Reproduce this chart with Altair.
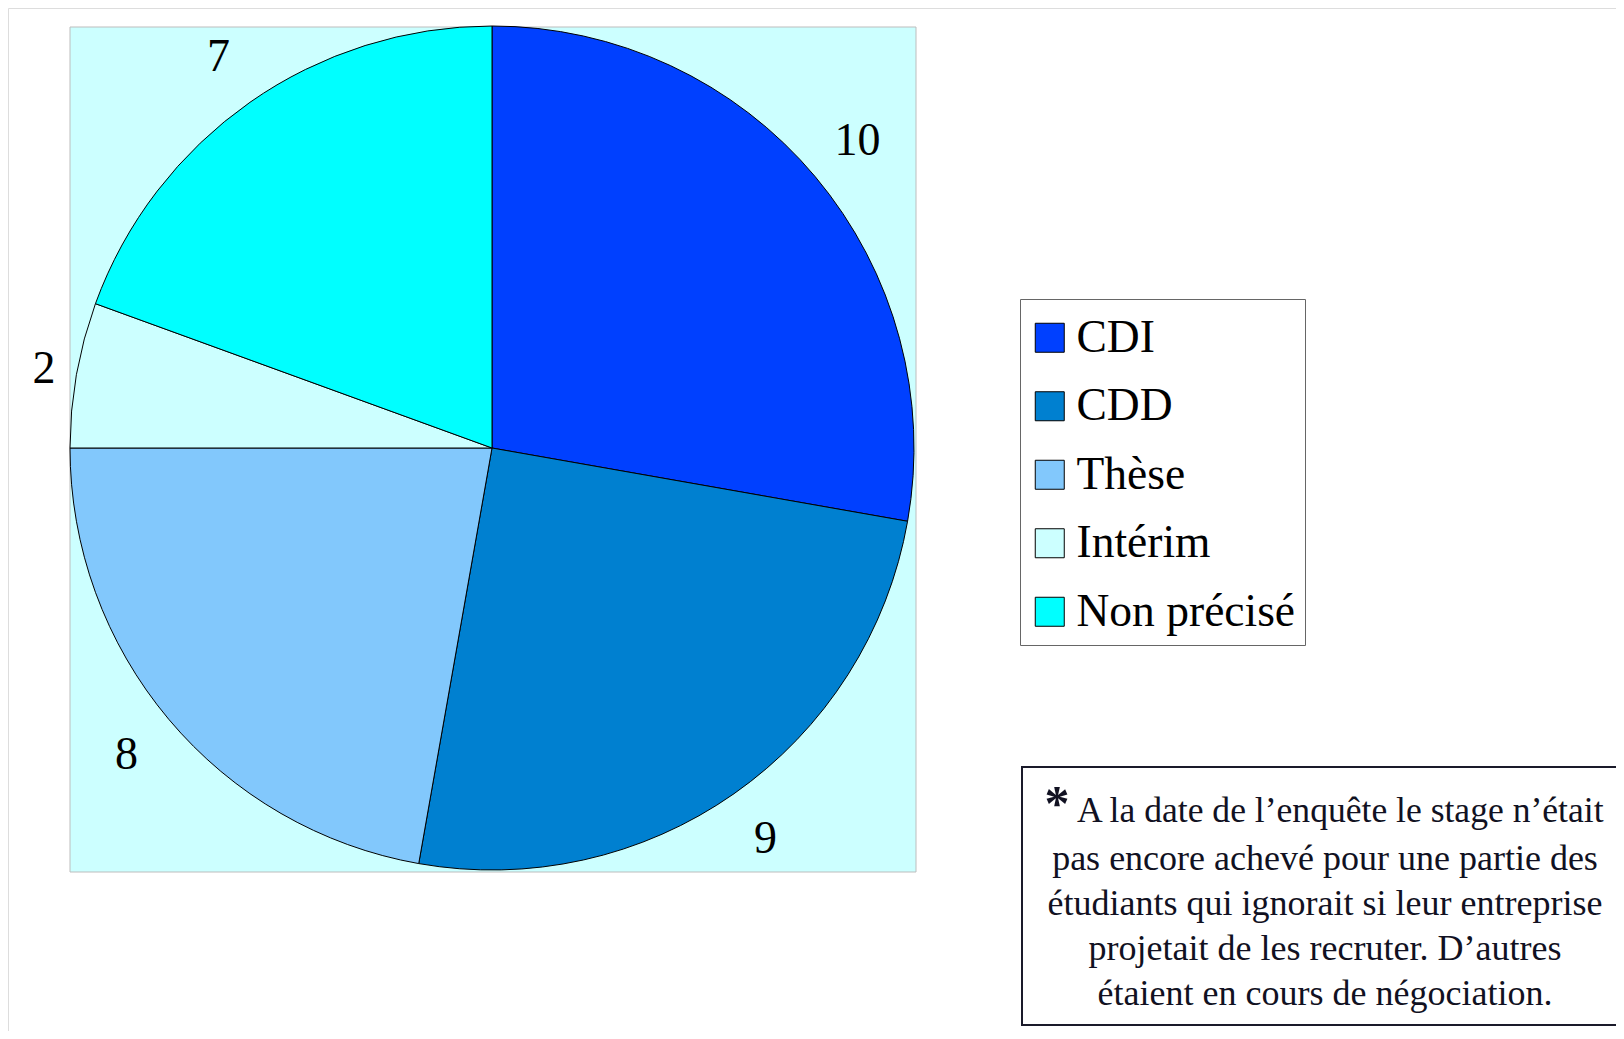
import altair as alt
import pandas as pd

# ---- data ----
categories = ["CDI", "CDD", "Thèse", "Intérim", "Non précisé"]
values = [10, 9, 8, 2, 7]
colors = ["#0040FF", "#0080D0", "#82C8FC", "#CCFFFF", "#00FFFF"]

note_star = "*"
note_first = "A la date de l’enquête le stage n’était"
note_rest = [
    "pas encore achevé pour une partie des",
    "étudiants qui ignorait si leur entreprise",
    "projetait de les recruter. D’autres",
    "étaient en cours de négociation.",
]

df = pd.DataFrame({"cat": categories, "value": values, "idx": list(range(len(categories)))})
one = pd.DataFrame({"a": [0]})

SERIF = "Liberation Serif"
CX, CY, R = 484, 440, 422

bg = alt.Chart(one).mark_rect(fill="#CCFFFF", stroke="#BDBDBD", strokeWidth=1).encode(
    x=alt.value(62), x2=alt.value(908), y=alt.value(19), y2=alt.value(864)
)

pie = alt.Chart(df).mark_arc(outerRadius=R, stroke="black", strokeWidth=1).encode(
    theta=alt.Theta("value:Q", stack=True),
    order=alt.Order("idx:Q", sort="ascending"),
    x=alt.value(CX),
    y=alt.value(CY),
    color=alt.Color(
        "cat:N",
        scale=alt.Scale(domain=categories, range=colors),
        legend=alt.Legend(
            title=".",
            titleOpacity=0,
            titleFontSize=2,
            titlePadding=5,
            orient="none",
            legendX=1012,
            legendY=291,
            padding=9,
            strokeColor="#666666",
            fillColor="white",
            labelFont=SERIF,
            labelFontSize=45.5,
            labelColor="black",
            labelLimit=400,
            labelOffset=4,
            symbolOffset=-2,
            symbolType="square",
            symbolSize=841,
            symbolStrokeColor="black",
            symbolStrokeWidth=1,
            symbolOpacity=1,
            rowPadding=21.5,
        ),
    ),
)

labels = (
    alt.Chart(df)
    .transform_window(cum="sum(value)", sort=[alt.SortField("idx", order="ascending")])
    .transform_joinaggregate(total="sum(value)")
    .transform_calculate(
        mid="2 * PI * (datum.cum - datum.value / 2) / datum.total",
        r="datum.cat == 'Intérim' ? 455 : 477",
    )
    .mark_text(font=SERIF, fontSize=46, color="black")
    .encode(
        theta=alt.Theta("mid:Q", scale=None),
        radius=alt.Radius("r:Q", scale=None),
        x=alt.value(CX),
        y=alt.value(CY),
        text="value:Q",
    )
)

note_box = alt.Chart(one).mark_rect(fill="white", stroke="#1a1a2a", strokeWidth=2).encode(
    x=alt.value(1014), x2=alt.value(1640), y=alt.value(759), y2=alt.value(1017)
)

note_star_t = alt.Chart(one).mark_text(
    font=SERIF, fontSize=50, fontWeight="bold", color="#111122", align="center", baseline="middle"
).encode(x=alt.value(1049), y=alt.value(797), text=alt.value(note_star))

note_first_t = alt.Chart(one).mark_text(
    font=SERIF, fontSize=35.6, color="#111122", align="left", baseline="middle"
).encode(x=alt.value(1069), y=alt.value(803), text=alt.value(note_first))

note_rest_t = alt.Chart(one).mark_text(
    font=SERIF, fontSize=36, color="#111122", align="center", baseline="middle", lineHeight=45
).encode(x=alt.value(1317), y=alt.value(851), text=alt.value(note_rest))

chart = (
    alt.layer(bg, pie, labels, note_box, note_star_t, note_first_t, note_rest_t)
    .resolve_scale(theta="independent", radius="independent")
    .properties(width=1608, height=1023, padding=0, autosize=alt.AutoSizeParams(type="none"))
    .configure_view(stroke=None)
    .configure(background="white")
)

chart.save("out.html", embed_options={"renderer": "svg", "actions": False})
